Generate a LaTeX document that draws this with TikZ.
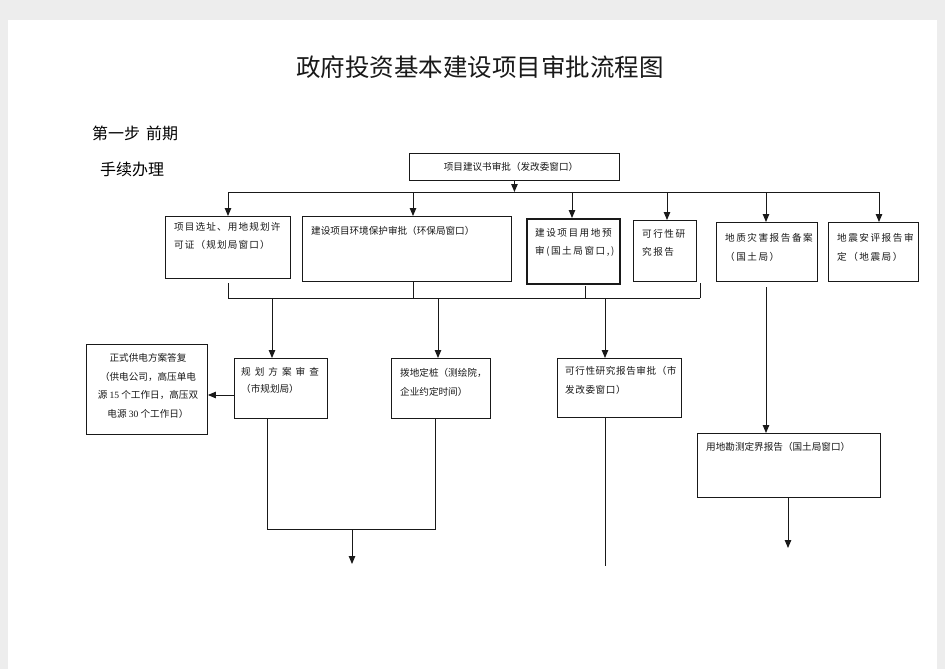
\documentclass[tikz,border=0pt]{standalone}
\usepackage{fontspec}
\newfontfamily\cjk{Noto Sans CJK SC}
\newfontfamily\cjka[LetterSpace=12]{Noto Sans CJK SC}
\newfontfamily\cjkb[LetterSpace=16]{Noto Sans CJK SC}
\newfontfamily\cjkc[LetterSpace=42]{Noto Sans CJK SC}
\newfontfamily\cjkd[LetterSpace=6]{Noto Sans CJK SC}
\newfontfamily\tms{Liberation Serif}
\usetikzlibrary{arrows.meta}
\tikzset{
  box/.style={draw=black!90, line width=0.9pt, rectangle, anchor=north west, inner sep=0pt},
  thickbox/.style={box, line width=1.7pt},
  midbox/.style={box, line width=1.2pt},
  txt/.style={inner sep=0pt, anchor=north west, align=left, text=black!90,
              font=\cjk\fontsize{9.6}{18.7}\selectfont},
  conn/.style={draw=black!90, line width=0.9pt},
  arr/.style={conn, -{Triangle[length=8pt,width=6.5pt]}},
}
\begin{document}
\begin{tikzpicture}[x=1pt,y=-1pt]
\useasboundingbox (0,0) rectangle (945,669);
\fill[black!7] (0,0) rectangle (945,669);
\fill[white] (8,20) rectangle (937,669);

% titles
\node[font=\cjk\fontsize{24.5}{28}\selectfont, text=black!90] (title) at (480,67) {政府投资基本建设项目审批流程图};
\node[anchor=west, inner sep=0pt, font=\cjk\fontsize{16}{19}\selectfont] (step1) at (92,133) {第一步\hspace{6pt}前期};
\node[anchor=west, inner sep=0pt, font=\cjk\fontsize{16}{19}\selectfont] (step2) at (100,169) {手续办理};

% top box
\node[box, minimum width=210pt, minimum height=27pt] (top) at (409,153) {};
\node[txt, anchor=center] (ttop) at (511,167) {项目建议书审批（发改委窗口）};

% first row boxes
\node[box, minimum width=125pt, minimum height=62pt] (b1) at (165,216) {};
\node[txt] (t1) at (174,222) {\cjka 项目选址、用地规划许\\\cjka 可证（规划局窗口）};
\node[box, minimum width=209pt, minimum height=65pt] (b2) at (302,216) {};
\node[txt] (t2) at (311,226) {建设项目环境保护审批（环保局窗口）};
\node[thickbox, minimum width=93pt, minimum height=65pt] (b3) at (526,218) {};
\node[txt] (t3) at (535,228) {\cjkb 建设项目用地预\\\cjkb 审(国土局窗口,)};
\node[box, minimum width=63pt, minimum height=61pt] (b4) at (633,220) {};
\node[txt] (t4) at (642,229) {\cjkb 可行性研\\\cjkb 究报告};
\node[midbox, minimum width=101pt, minimum height=59pt] (b5) at (716,222) {};
\node[txt] (t5) at (725,233) {\cjkb 地质灾害报告备案\\\cjkb （国土局）};
\node[midbox, minimum width=90pt, minimum height=59pt] (b6) at (828,222) {};
\node[txt] (t6) at (837,233) {\cjkb 地震安评报告审\\\cjkb 定（地震局）};

% second row boxes
\node[box, minimum width=121pt, minimum height=90pt] (c0) at (86,344) {};
\node[txt, anchor=north, align=center] (s0) at (148,353) {正式供电方案答复\\（供电公司，高压单电\\源 {\tms 15} 个工作日，高压双\\电源 {\tms 30} 个工作日）};
\node[box, minimum width=93pt, minimum height=60pt] (c1) at (234,358) {};
\node[txt, font=\cjk\fontsize{9.6}{17.5}\selectfont] (s1) at (241,367) {\cjkc 规划方案审查\\（市规划局）};
\node[box, minimum width=99pt, minimum height=60pt] (c2) at (391,358) {};
\node[txt] (s2) at (400,368) {拨地定桩（测绘院，\\企业约定时间）};
\node[box, minimum width=124pt, minimum height=59pt] (c3) at (557,358) {};
\node[txt] (s3) at (565,366) {\cjkd 可行性研究报告审批（市\\\cjkd 发改委窗口）};
\node[midbox, minimum width=183pt, minimum height=64pt] (c4) at (697,433) {};
\node[txt] (s4) at (706,442) {用地勘测定界报告（国土局窗口）};

% upper bus
\coordinate (busL) at (228,192);
\coordinate (busR) at (880,192);
\draw[conn] (busL) -- (busR);
\draw[arr] (top.south) -- (top.south |- busL);
\coordinate (a1) at (228,192);
\coordinate (a2) at (413,192);
\coordinate (a3) at (572,192);
\coordinate (a4) at (667,192);
\coordinate (a5) at (766,192);
\coordinate (a6) at (879,192);
\draw[arr] (a1) -- (a1 |- b1.north);
\draw[arr] (a2) -- (a2 |- b2.north);
\draw[arr] (a3) -- (a3 |- b3.north);
\draw[arr] (a4) -- (a4 |- b4.north);
\draw[arr] (a5) -- (a5 |- b5.north);
\draw[arr] (a6) -- (a6 |- b6.north);

% lower bus
\coordinate (mbL) at (228,298);
\coordinate (mbR) at (700,298);
\draw[conn] (mbL) -- (mbR);
\coordinate (u1) at (228,283);
\coordinate (u2) at (413,281);
\coordinate (u3) at (585,286);
\coordinate (u4) at (700,283);
\draw[conn] (u1) -- (u1 |- mbL);
\draw[conn] (u2) -- (u2 |- mbL);
\draw[conn] (u3) -- (u3 |- mbL);
\draw[conn] (u4) -- (u4 |- mbL);
\coordinate (d1) at (272,298);
\coordinate (d2) at (438,298);
\coordinate (d3) at (605,298);
\draw[arr] (d1) -- (d1 |- c1.north);
\draw[arr] (d2) -- (d2 |- c2.north);
\draw[arr] (d3) -- (d3 |- c3.north);

% geology branch
\coordinate (g1) at (766,287);
\draw[arr] (g1) -- (g1 |- c4.north);

% planning -> power supply
\coordinate (p1) at (234,395);
\draw[arr] (p1) -- (p1 -| c0.east);

% bottom joins
\coordinate (j1) at (267,418);
\coordinate (j2) at (435,418);
\coordinate (jb) at (267,529);
\draw[conn] (j1) -- (jb) -- (jb -| j2) -- (j2);
\coordinate (jm) at (352,529);
\coordinate (je) at (352,564);
\draw[arr] (jm) -- (je);
\coordinate (k1) at (605,417);
\coordinate (k2) at (605,566);
\draw[conn] (k1) -- (k2);
\coordinate (m1) at (788,497);
\coordinate (m2) at (788,548);
\draw[arr] (m1) -- (m2);
\end{tikzpicture}
\end{document}
